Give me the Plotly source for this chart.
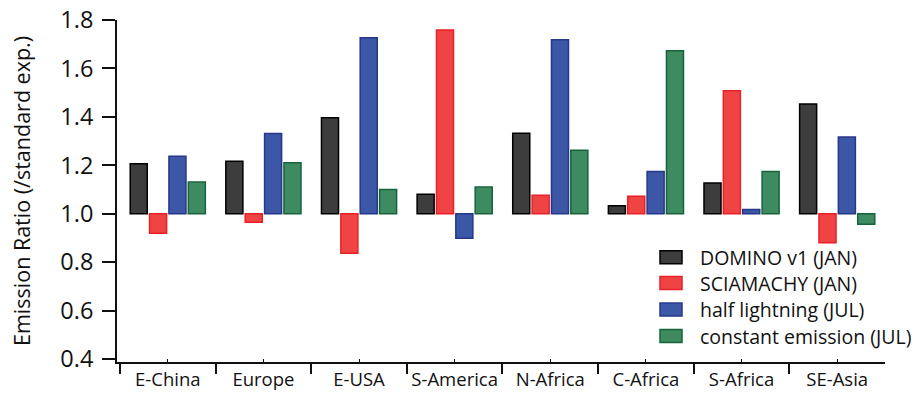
import plotly.graph_objects as go

# Regions and emission ratios relative to the standard experiment
regions = ["E-China", "Europe", "E-USA", "S-America", "N-Africa", "C-Africa", "S-Africa", "SE-Asia"]
domino_jan = [1.207, 1.217, 1.396, 1.081, 1.332, 1.033, 1.127, 1.453]
sciamachy_jan = [0.920, 0.965, 0.837, 1.759, 1.076, 1.072, 1.508, 0.880]
half_lightning_jul = [1.237, 1.331, 1.727, 0.899, 1.718, 1.175, 1.018, 1.317]
constant_emission_jul = [1.131, 1.211, 1.100, 1.110, 1.262, 1.673, 1.175, 0.957]

series_names = ["DOMINO v1 (JAN)", "SCIAMACHY (JAN)", "half lightning (JUL)", "constant emission (JUL)"]
series_values = [domino_jan, sciamachy_jan, half_lightning_jul, constant_emission_jul]
fills = ["#3d3d3d", "#f04444", "#3b57a6", "#3e8a61"]
edges = ["#000000", "#e82127", "#27378a", "#17643a"]

FONT = "Open Sans"
BASE = 1.0
xpos = list(range(len(regions)))

# plot area in pixels
L, R, T, B = 117, 885, 19.5, 362
plot_w = R - L
plot_h = B - T

fig = go.Figure()
for name, vals, fc, ec in zip(series_names, series_values, fills, edges):
    fig.add_trace(go.Bar(
        x=xpos,
        y=[v - BASE for v in vals],
        base=BASE,
        name=name,
        marker=dict(color=fc, line=dict(color=ec, width=1.5)),
        customdata=vals,
        hovertemplate="%{customdata:.2f}<extra>" + name + "</extra>",
        showlegend=False,
    ))

# Legend drawn as swatches + text in paper coordinates
row_centers_px = [257, 283, 309.5, 336]
shapes = []
annotations = []
for name, fc, ec, cy in zip(series_names, fills, edges, row_centers_px):
    y_paper = (B - cy) / plot_h
    shapes.append(dict(
        type="rect", xref="paper", yref="paper",
        x0=(660 - L) / plot_w, x1=(682 - L) / plot_w,
        y0=y_paper - 6.5 / plot_h, y1=y_paper + 6.5 / plot_h,
        fillcolor=fc, line=dict(color=ec, width=1.5),
    ))
    annotations.append(dict(
        xref="paper", yref="paper", x=(698 - L) / plot_w, y=y_paper,
        text=name, showarrow=False, xanchor="left", yanchor="middle",
        font=dict(family=FONT, size=19.5, color="#111111"),
    ))

# y-axis title
annotations.append(dict(
    xref="paper", yref="paper", x=(21 - L) / plot_w, y=0.5,
    text="Emission Ratio (/standard exp.)", showarrow=False, textangle=-90,
    xanchor="center", yanchor="middle",
    font=dict(family=FONT, size=21.5, color="#111111"),
))

fig.update_layout(
    width=920, height=394,
    margin=dict(l=L, r=920 - R, t=T, b=394 - B),
    paper_bgcolor="white", plot_bgcolor="white",
    barmode="group", bargap=0.19, bargroupgap=0.12,
    font=dict(family=FONT, color="#111111"),
    shapes=shapes, annotations=annotations,
    xaxis=dict(
        range=[-0.531, 7.5], automargin=False,
        tickmode="array", tickvals=xpos, ticktext=regions,
        ticks="inside", ticklen=3, tickwidth=1.2, tickcolor="#111111",
        minor=dict(tickvals=[i - 0.5 for i in range(len(regions) + 1)],
                   ticks="outside", ticklen=10, tickwidth=1.5, tickcolor="#111111"),
        showline=True, linecolor="#111111", linewidth=1.8,
        showgrid=False, zeroline=False,
        tickfont=dict(family=FONT, size=18.5, color="#111111"),
        ticklabelstandoff=0,
    ),
    yaxis=dict(
        range=[0.388, 1.8], automargin=False,
        tickvals=[0.4, 0.6, 0.8, 1.0, 1.2, 1.4, 1.6, 1.8], tickformat=".1f",
        ticks="outside", ticklen=13, tickwidth=1.5, tickcolor="#111111",
        showline=True, linecolor="#111111", linewidth=1.8,
        showgrid=False, zeroline=False,
        tickfont=dict(family=FONT, size=23.5, color="#111111"),
        ticklabelstandoff=4,
    ),
)

fig.write_html("out.html")
